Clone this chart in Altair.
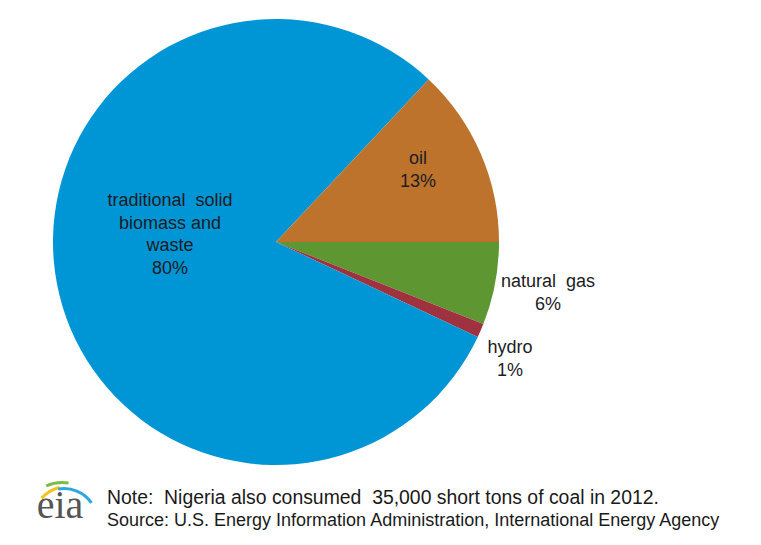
import math
import altair as alt
import pandas as pd

# ---- data ----
categories = ["natural gas", "hydro", "traditional solid biomass and waste", "oil"]
shares = [6, 1, 80, 13]
slice_colors = ["#5E9732", "#A0323F", "#0096D6", "#BD732C"]
NB = "\u00a0"
label_texts = [
    "natural" + NB + " gas\n6%",
    "hydro\n1%",
    "traditional" + NB + " solid\nbiomass and\nwaste\n80%",
    "oil\n13%",
]
note_lines = [
    "Note:" + NB + " Nigeria also consumed" + NB + " 35,000 short tons of coal in 2012.",
    "Source: U.S. Energy Information Administration, International Energy Agency",
]

df = pd.DataFrame({
    "category": categories,
    "share": shares,
    "idx": list(range(len(categories))),
    "label": label_texts,
})

OX, OY = 8, 8  # page margin
CX, CY, R = 276 - OX, 242 - OY, 223

base = alt.Chart(df)

pie = base.mark_arc(stroke=None).encode(
    theta=alt.Theta("share:Q", stack=True,
                    scale=alt.Scale(range=[math.pi / 2, math.pi / 2 + 2 * math.pi])),
    color=alt.Color("category:N", legend=None,
                    scale=alt.Scale(domain=categories, range=slice_colors)),
    order=alt.Order("idx:Q"),
    x=alt.value(CX), y=alt.value(CY), radius=alt.value(R),
)

# (centre x, first-line y) of each label
label_pos = {
    "traditional solid biomass and waste": (170, 201),
    "oil": (418, 159),
    "natural gas": (548, 282),
    "hydro": (510, 348),
}

layers = [pie]
for cat, (lx, ly) in label_pos.items():
    layers.append(
        base.transform_filter(alt.datum.category == cat)
        .mark_text(font="Liberation Sans", fontSize=18, color="#1c1c24",
                   lineBreak="\n", lineHeight=22.5, align="center", baseline="middle")
        .encode(text="label:N", x=alt.value(lx - OX), y=alt.value(ly - OY))
    )

notes = pd.DataFrame({"line": note_lines, "row": [0, 1]})
for row, (ny, fs) in enumerate([(498, 19.4), (521, 18)]):
    layers.append(
        alt.Chart(notes).transform_filter(alt.datum.row == row).mark_text(
            font="Liberation Sans", fontSize=fs, color="#1a1a1a", align="left", baseline="middle"
        ).encode(text="line:N", x=alt.value(107 - OX), y=alt.value(ny - OY))
    )

# eia logo
logo = pd.DataFrame({"t": ["eia"]})
logo_text = alt.Chart(logo).mark_text(
    font="Liberation Serif", fontSize=40, color="#555555", align="center", baseline="alphabetic"
).encode(text="t:N", x=alt.value(60 - OX), y=alt.value(518 - OY))
layers.append(logo_text)

arc_specs = [
    ("#F2C318", 68, 522, 34, 37, -48, -14),
    ("#7DBB42", 62, 520, 36, 39, -25, 10),
    ("#29A8E0", 64, 522, 32, 35, -10, 55),
]
for col, ax_, ay_, r1, r2, t1, t2 in arc_specs:
    layers.append(
        alt.Chart(logo).mark_arc(color=col).encode(
            x=alt.value(ax_ - OX), y=alt.value(ay_ - OY),
            radius=alt.value(r2), radius2=alt.value(r1),
            theta=alt.value(math.radians(t1)), theta2=alt.value(math.radians(t2)),
        )
    )

chart = alt.layer(*layers).properties(
    width=745, height=529, padding=0,
    autosize=alt.AutoSizeParams(type="fit", contains="padding"),
).configure_view(stroke=None)

chart.save("out.html", embed_options={"renderer": "svg", "actions": False})
